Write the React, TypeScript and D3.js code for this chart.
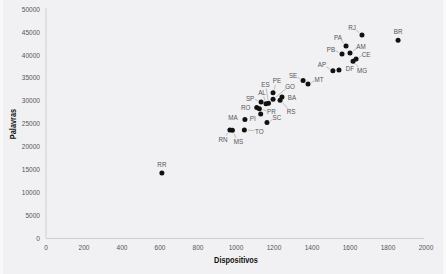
import React from "react";
import * as d3 from "d3";

const states = ["RR","BR","RJ","PA","AM","PB","CE","MG","DF","AP","SE","MT","PE","GO","SP","AL","ES","BA","RS","RO","PR","PI","MA","SC","TO","RN","MS"];
const dispositivos = [610,1853,1663,1579,1600,1558,1632,1616,1542,1510,1353,1379,1195,1195,1132,1158,1171,1242,1232,1109,1123,1130,1047,1163,1044,968,981];
const palavras = [14200,43200,44300,41900,40400,40200,39100,38600,36700,36500,34400,33600,31700,30300,29700,29300,29400,30800,30100,28500,28200,27100,25900,25200,23600,23600,23500];
const xTicks = [0,200,400,600,800,1000,1200,1400,1600,1800,2000];
const yTicks = [0,5000,10000,15000,20000,25000,30000,35000,40000,45000,50000];

// label offsets in pixels (layout only)
const labelOffsets: Record<string, [number, number, boolean]> = {
  RR: [0, -9, false], BR: [0, -9, false], RJ: [-10, -8, true], PA: [-8, -9, true],
  AM: [11, -7, true], PB: [-11, -5, true], CE: [10, -5, true], MG: [9, 9, true],
  DF: [11, -2, false], AP: [-11, -6, true], SE: [-10, -5, true], MT: [11, -5, true],
  PE: [4, -12, true], GO: [17, -13, true], SP: [-11, -4, true], AL: [-4, -11, true],
  ES: [-3, -19, true], BA: [10, 0, false], RS: [11, 11, true], RO: [-11, 0, false],
  PR: [12, 3, true], PI: [-8, 4, false], MA: [-12, -2, false], SC: [10, -5, true],
  TO: [15, 1, true], RN: [-7, 9, true], MS: [6, 11, true],
};

const W = 446, H = 274;
const FONT = "'Liberation Sans', Arial, sans-serif";
const SX = 0.84;

function CText(props: { x: number; y: number; anchor: string; size: number; fill: string; weight?: string; rotate?: number; dy?: string; children: React.ReactNode }) {
  const { x, y, anchor, size, fill, weight, rotate, dy, children } = props;
  return (
    <text
      transform={`translate(${x},${y}) rotate(${rotate || 0}) scale(${SX},1)`}
      dy={dy}
      textAnchor={anchor}
      fontSize={size}
      fontWeight={weight}
      fill={fill}
    >
      {children}
    </text>
  );
}

export default function App() {
  const x = d3.scaleLinear().domain([0, 2000]).range([46, 426]);
  const y = d3.scaleLinear().domain([0, 50000]).range([238, 9]);
  const pts = states.map((s, i) => ({ s, px: x(dispositivos[i]), py: y(palavras[i]) }));
  return (
    <svg width={W} height={H} style={{ position: "fixed", left: 0, top: 0 }} fontFamily={FONT}>
      <rect x={0} y={0} width={W} height={H} fill="#f8f8f9" />
      <rect x={3} y={0} width={440} height={H} fill="#f1f1f3" />
      <line x1={x(0)} x2={x(0)} y1={y(50000) - 1} y2={y(0)} stroke="#cfcfd2" strokeWidth={1} />
      <line x1={x(0)} x2={x(1990)} y1={y(0) + 0.5} y2={y(0) + 0.5} stroke="#cfcfd2" strokeWidth={1} />
      {yTicks.map((t) => (
        <CText key={"y" + t} x={40} y={y(t)} dy="0.35em" anchor="end" size={7.8} fill="#555">{t}</CText>
      ))}
      {xTicks.map((t) => (
        <CText key={"x" + t} x={x(t)} y={249.5} anchor="middle" size={7.8} fill="#555">{t}</CText>
      ))}
      <CText x={236} y={263} anchor="middle" size={8.8} weight="bold" fill="#111">Dispositivos</CText>
      <CText x={16} y={124} rotate={-90} anchor="middle" size={8.8} weight="bold" fill="#111">Palavras</CText>
      {pts.map((p) => {
        const [dx, dy, lead] = labelOffsets[p.s];
        const lx = p.px + dx, ly = p.py + dy;
        const dist = Math.hypot(dx, dy);
        const ux = -dx / dist, uy = -dy / dist;
        const sx = lx + ux * 5, sy = ly + uy * 4;
        const ex = p.px - ux * 3.5, ey = p.py - uy * 3.5;
        return (
          <g key={p.s}>
            {lead && <line x1={sx} y1={sy} x2={ex} y2={ey} stroke="#999" strokeWidth={0.6} />}
            <CText x={lx} y={ly} dy="0.35em" anchor="middle" size={7.5} fill="#555">{p.s}</CText>
          </g>
        );
      })}
      {pts.map((p) => (
        <circle key={"c" + p.s} cx={p.px} cy={p.py} r={2.5} fill="#111" />
      ))}
    </svg>
  );
}
